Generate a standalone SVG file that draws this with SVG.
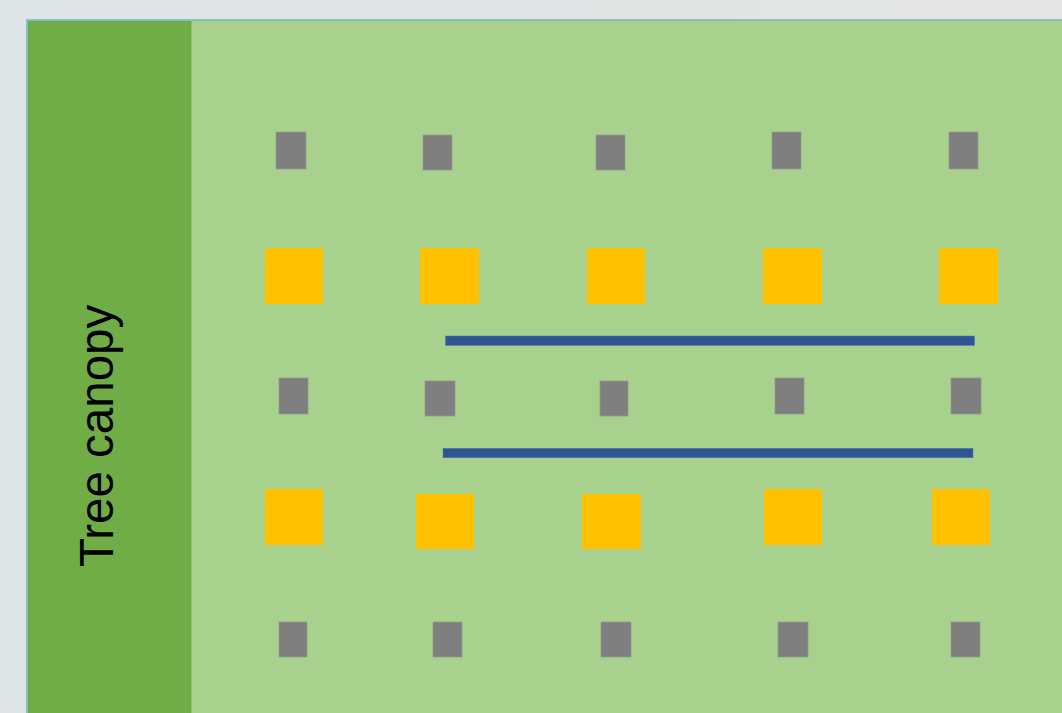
<svg xmlns="http://www.w3.org/2000/svg" width="1062" height="713" viewBox="0 0 1062 713">
  <defs>
    <linearGradient id="bg" x1="0" y1="0" x2="1" y2="0">
      <stop offset="0" stop-color="#dfe4e5"/>
      <stop offset="1" stop-color="#e5e5e5"/>
    </linearGradient>
  </defs>
  <style>
    .tree { fill: #7f7f7f; stroke: #939a8f; stroke-width: 0.8; }
    .crop { fill: #ffc000; }
    .row { fill: #2f5597; stroke: #5a7aa0; stroke-width: 0.5; }
    .label { font-family: "Liberation Sans", Arial, sans-serif; font-size: 47.5px; fill: #000000; }
  </style>
  <rect x="0" y="0" width="1062" height="713" fill="url(#bg)"/>
  <g id="field">
    <rect x="27" y="20" width="1040" height="700" fill="#a9d18e" stroke="#6fbec2" stroke-width="1.6"/>
  </g>
  <g id="canopy">
    <rect x="28" y="21" width="163" height="700" fill="#70ad47"/>
    <line x1="191.5" y1="21" x2="191.5" y2="713" stroke="#8cc26a" stroke-width="1"/>
    <text class="label" transform="translate(113,567) rotate(-90)">Tree canopy</text>
  </g>
  <g id="trees-row1">
    <rect class="tree" x="276" y="132" width="30" height="37"/>
    <rect class="tree" x="423" y="135" width="29" height="35"/>
    <rect class="tree" x="596" y="135" width="29" height="35"/>
    <rect class="tree" x="772" y="132" width="29" height="37"/>
    <rect class="tree" x="949" y="132" width="29" height="37"/>
  </g>
  <g id="crops-row2">
    <rect class="crop" x="265" y="248" width="58" height="56"/>
    <rect class="crop" x="420" y="248" width="59" height="56"/>
    <rect class="crop" x="587" y="248" width="58" height="56"/>
    <rect class="crop" x="763" y="248" width="59" height="56"/>
    <rect class="crop" x="939" y="248" width="59" height="56"/>
  </g>
  <g id="trees-row3">
    <rect class="tree" x="279" y="378" width="29" height="36"/>
    <rect class="tree" x="425" y="381" width="30" height="35"/>
    <rect class="tree" x="600" y="381" width="28" height="35"/>
    <rect class="tree" x="775" y="378" width="29" height="36"/>
    <rect class="tree" x="951" y="378" width="30" height="36"/>
  </g>
  <g id="crops-row4">
    <rect class="crop" x="265" y="489" width="58" height="56"/>
    <rect class="crop" x="416" y="494" width="58" height="55"/>
    <rect class="crop" x="582" y="494" width="59" height="55"/>
    <rect class="crop" x="764" y="489" width="58" height="56"/>
    <rect class="crop" x="932" y="489" width="58" height="56"/>
  </g>
  <g id="trees-row5">
    <rect class="tree" x="279" y="622" width="28" height="35"/>
    <rect class="tree" x="433" y="622" width="29" height="35"/>
    <rect class="tree" x="601" y="622" width="30" height="35"/>
    <rect class="tree" x="778" y="622" width="30" height="35"/>
    <rect class="tree" x="951" y="622" width="29" height="35"/>
  </g>
  <g id="connectors">
    <rect class="row" x="445.5" y="336" width="529" height="9.5"/>
    <rect class="row" x="443" y="448.3" width="530" height="9.5"/>
  </g>
</svg>
